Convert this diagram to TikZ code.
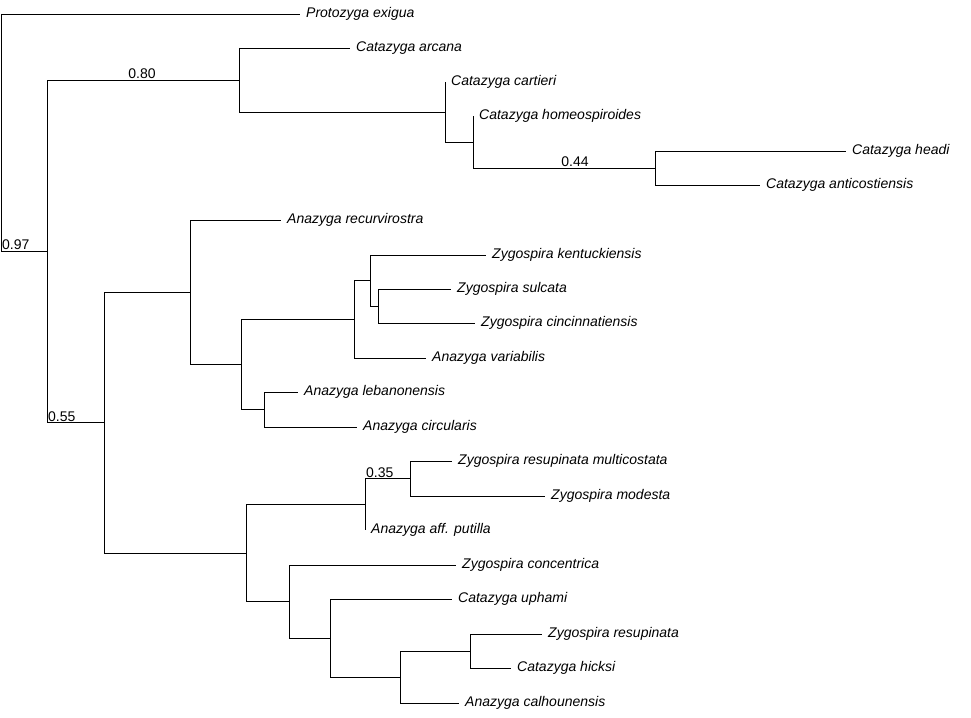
\documentclass[tikz,border=0pt]{standalone}
\usepackage{fontspec}
\setmainfont{Liberation Sans}
\begin{document}
\begin{tikzpicture}[x=1pt,y=-1pt,
  br/.style={line width=0.8pt},
  leaf/.style={anchor=west,inner sep=0pt,xshift=6pt,font=\fontsize{14}{16}\selectfont\itshape},
  sup/.style={inner sep=1pt,font=\fontsize{14}{16}\selectfont}]
\useasboundingbox (0,0) rectangle (971,717);
% leaves
\foreach \n/\x/\y/\t in {
 l1/300/14/Protozyga exigua, l2/350/48/Catazyga arcana, l3/445/82/Catazyga cartieri,
 l4/473/116/Catazyga homeospiroides, l5/846/151/Catazyga headi, l6/760/185/Catazyga anticostiensis,
 l7/281/220/Anazyga recurvirostra, l8/486/255/Zygospira kentuckiensis, l9/451/289/Zygospira sulcata,
 l10/475/323/Zygospira cincinnatiensis, l11/426/358/Anazyga variabilis, l12/298/392/Anazyga lebanonensis,
 l13/357/427/Anazyga circularis, l14/452/461/Zygospira resupinata multicostata, l15/545/496/Zygospira modesta,
 l16/365/530/Anazyga aff. putilla, l17/456/565/Zygospira concentrica, l18/452/599/Catazyga uphami,
 l19/542/634/Zygospira resupinata, l20/511/668/Catazyga hicksi, l21/459/703/Anazyga calhounensis}
 {\coordinate (\n) at (\x,\y); \node[leaf] (t\n) at (\n) {\t};}
% internal nodes
\foreach \n/\x/\y in {R/1/135, A/47/251, B/239/80, D/445/112, E/473/142, F/655/168,
 C/104/422.5, G/190/292, I/241/364, K/264/409.5, J/354/319, L/370/280.5, M/378/306,
 H/246/553, N/365/504, P/410/478.5, O/289/601.5, Q/330/638, Rr/400/677, S/470/651}
 {\coordinate (\n) at (\x,\y);}
\newcommand\kids[3]{\draw[br] (#1|-#2) -- (#1|-#3); \draw[br] (#1|-#2) -- (#2); \draw[br] (#1|-#3) -- (#3);}
\kids{R}{l1}{A}
\kids{A}{B}{C}
\kids{B}{l2}{D}
\kids{D}{l3}{E}
\kids{E}{l4}{F}
\kids{F}{l5}{l6}
\kids{C}{G}{H}
\kids{G}{l7}{I}
\kids{I}{J}{K}
\kids{K}{l12}{l13}
\kids{J}{L}{l11}
\kids{L}{l8}{M}
\kids{M}{l9}{l10}
\kids{H}{N}{O}
\kids{N}{P}{l16}
\kids{P}{l14}{l15}
\kids{O}{l17}{Q}
\kids{Q}{l18}{Rr}
\kids{Rr}{S}{l21}
\kids{S}{l19}{l20}
% support values
\node[sup,anchor=south west] (s1) at (R|-A) {0.97};
\node[sup,anchor=south] (s2) at (142,80) {0.80};
\node[sup,anchor=south west] (s3) at (A|-C) {0.55};
\node[sup,anchor=south] (s4) at (575,168) {0.44};
\node[sup,anchor=south west] (s5) at (N|-P) {0.35};
\end{tikzpicture}
\end{document}
